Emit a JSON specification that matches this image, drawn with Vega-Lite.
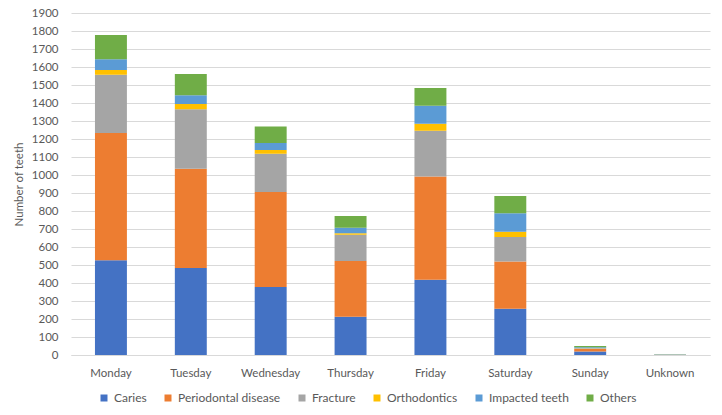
{
  "$schema": "https://vega.github.io/schema/vega-lite/v6.json",
  "width": 639,
  "height": 342,
  "autosize": {"type": "none"},
  "padding": {"left": 71, "top": 13, "right": 12, "bottom": 60},
  "background": "white",
  "config": {
    "font": "Lato",
    "view": {"stroke": null},
    "axis": {"labelColor": "#595959", "titleColor": "#595959", "labelFontSize": 11.5, "titleFontSize": 11.5, "titleFontWeight": "normal"}
  },
  "data": {"values": [
    {"Day": "Monday", "Category": "Caries", "Teeth": 527},
    {"Day": "Monday", "Category": "Periodontal disease", "Teeth": 706},
    {"Day": "Monday", "Category": "Fracture", "Teeth": 324},
    {"Day": "Monday", "Category": "Orthodontics", "Teeth": 26},
    {"Day": "Monday", "Category": "Impacted teeth", "Teeth": 60},
    {"Day": "Monday", "Category": "Others", "Teeth": 135},
    {"Day": "Tuesday", "Category": "Caries", "Teeth": 483},
    {"Day": "Tuesday", "Category": "Periodontal disease", "Teeth": 552},
    {"Day": "Tuesday", "Category": "Fracture", "Teeth": 330},
    {"Day": "Tuesday", "Category": "Orthodontics", "Teeth": 29},
    {"Day": "Tuesday", "Category": "Impacted teeth", "Teeth": 49},
    {"Day": "Tuesday", "Category": "Others", "Teeth": 118},
    {"Day": "Wednesday", "Category": "Caries", "Teeth": 378},
    {"Day": "Wednesday", "Category": "Periodontal disease", "Teeth": 528},
    {"Day": "Wednesday", "Category": "Fracture", "Teeth": 212},
    {"Day": "Wednesday", "Category": "Orthodontics", "Teeth": 21},
    {"Day": "Wednesday", "Category": "Impacted teeth", "Teeth": 39},
    {"Day": "Wednesday", "Category": "Others", "Teeth": 92},
    {"Day": "Thursday", "Category": "Caries", "Teeth": 213},
    {"Day": "Thursday", "Category": "Periodontal disease", "Teeth": 309},
    {"Day": "Thursday", "Category": "Fracture", "Teeth": 146},
    {"Day": "Thursday", "Category": "Orthodontics", "Teeth": 8},
    {"Day": "Thursday", "Category": "Impacted teeth", "Teeth": 31},
    {"Day": "Thursday", "Category": "Others", "Teeth": 65},
    {"Day": "Friday", "Category": "Caries", "Teeth": 418},
    {"Day": "Friday", "Category": "Periodontal disease", "Teeth": 573},
    {"Day": "Friday", "Category": "Fracture", "Teeth": 255},
    {"Day": "Friday", "Category": "Orthodontics", "Teeth": 39},
    {"Day": "Friday", "Category": "Impacted teeth", "Teeth": 100},
    {"Day": "Friday", "Category": "Others", "Teeth": 98},
    {"Day": "Saturday", "Category": "Caries", "Teeth": 257},
    {"Day": "Saturday", "Category": "Periodontal disease", "Teeth": 263},
    {"Day": "Saturday", "Category": "Fracture", "Teeth": 136},
    {"Day": "Saturday", "Category": "Orthodontics", "Teeth": 29},
    {"Day": "Saturday", "Category": "Impacted teeth", "Teeth": 102},
    {"Day": "Saturday", "Category": "Others", "Teeth": 96},
    {"Day": "Sunday", "Category": "Caries", "Teeth": 20},
    {"Day": "Sunday", "Category": "Periodontal disease", "Teeth": 13},
    {"Day": "Sunday", "Category": "Fracture", "Teeth": 3},
    {"Day": "Sunday", "Category": "Orthodontics", "Teeth": 2},
    {"Day": "Sunday", "Category": "Impacted teeth", "Teeth": 5},
    {"Day": "Sunday", "Category": "Others", "Teeth": 7},
    {"Day": "Unknown", "Category": "Caries", "Teeth": 1},
    {"Day": "Unknown", "Category": "Periodontal disease", "Teeth": 1},
    {"Day": "Unknown", "Category": "Fracture", "Teeth": 1},
    {"Day": "Unknown", "Category": "Orthodontics", "Teeth": 0},
    {"Day": "Unknown", "Category": "Impacted teeth", "Teeth": 0},
    {"Day": "Unknown", "Category": "Others", "Teeth": 1}
  ]},
  "transform": [
    {"calculate": "indexof(['Caries', 'Periodontal disease', 'Fracture', 'Orthodontics', 'Impacted teeth', 'Others'], datum.Category)", "as": "StackOrder"}
  ],
  "mark": {"type": "bar"},
  "encoding": {
    "x": {
      "field": "Day", "type": "nominal",
      "sort": ["Monday", "Tuesday", "Wednesday", "Thursday", "Friday", "Saturday", "Sunday", "Unknown"],
      "scale": {"paddingInner": 0.6, "paddingOuter": 0.3},
      "axis": {"title": null, "labelAngle": 0, "ticks": false, "domainColor": "#D9D9D9", "labelPadding": 12}
    },
    "y": {
      "field": "Teeth", "type": "quantitative", "stack": "zero",
      "scale": {"domain": [0, 1900]},
      "axis": {"title": "Number of teeth", "values": [0,100,200,300,400,500,600,700,800,900,1000,1100,1200,1300,1400,1500,1600,1700,1800,1900], "format": "d", "labelOverlap": false, "labelFlush": false, "domain": false, "ticks": false, "gridColor": "#D9D9D9", "labelPadding": 13, "titlePadding": 7}
    },
    "color": {
      "field": "Category", "type": "nominal",
      "sort": ["Caries", "Periodontal disease", "Fracture", "Orthodontics", "Impacted teeth", "Others"],
      "scale": {
        "domain": ["Caries", "Periodontal disease", "Fracture", "Orthodontics", "Impacted teeth", "Others"],
        "range": ["#4472C4", "#ED7D31", "#A5A5A5", "#FFC000", "#5B9BD5", "#70AD47"]
      },
      "legend": {
        "title": null, "orient": "none", "direction": "horizontal", "legendX": 27, "legendY": 379,
        "symbolType": "square", "symbolSize": 49, "symbolStrokeWidth": 0, "labelFontSize": 12, "labelColor": "#595959", "columnPadding": 15, "labelOffset": 4
      }
    },
    "order": {"field": "StackOrder", "type": "quantitative", "sort": "ascending"}
  }
}
